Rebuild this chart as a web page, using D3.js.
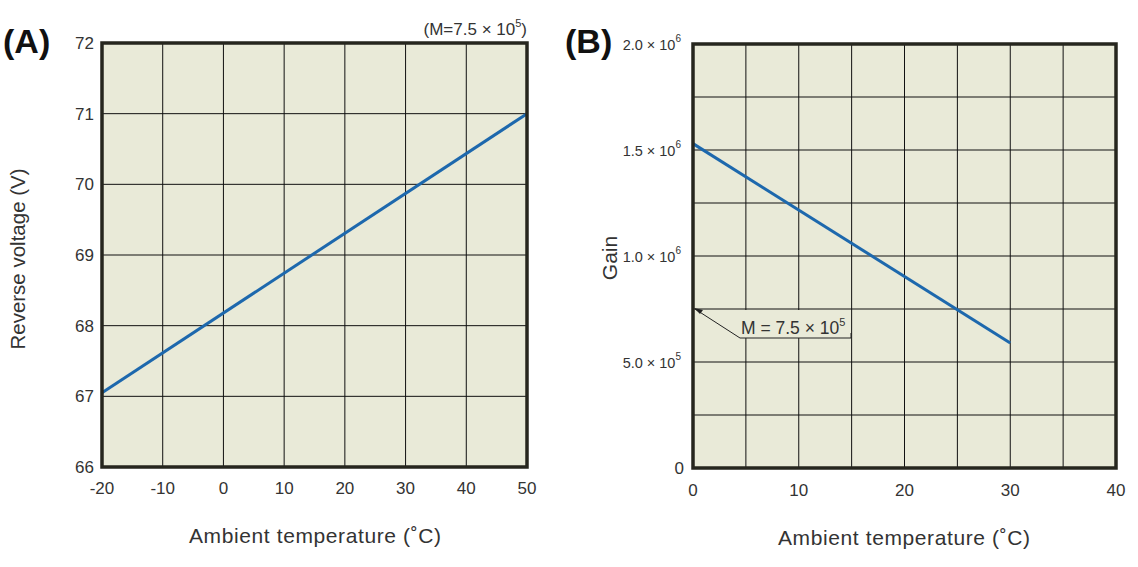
<!DOCTYPE html>
<html><head><meta charset="utf-8">
<script src="https://cdn.jsdelivr.net/npm/d3@7"></script>
<style>
html,body{margin:0;padding:0;background:#fff;}
svg{display:block;font-family:"Liberation Sans",Arial,sans-serif;}
</style></head>
<body>
<svg id="c" width="1138" height="567"></svg>
<script>
// Panel A data
const tempA = [-20, 50];
const voltA = [67.05, 71.0];
const xTicksA = [-20, -10, 0, 10, 20, 30, 40, 50];
const yTicksA = [66, 67, 68, 69, 70, 71, 72];
// Panel B data
const tempB = [0, 30];
const gainB = [1.53e6, 0.59e6];
const xTicksB = [0, 10, 20, 30, 40];
const xGridB = [0, 5, 10, 15, 20, 25, 30, 35, 40];
const yGridB = [0, 2.5e5, 5e5, 7.5e5, 1e6, 1.25e6, 1.5e6, 1.75e6, 2e6];
const yLabelsB = [
  {v: 0, m: "0", e: ""},
  {v: 5e5, m: "5.0 × 10", e: "5"},
  {v: 1e6, m: "1.0 × 10", e: "6"},
  {v: 1.5e6, m: "1.5 × 10", e: "6"},
  {v: 2e6, m: "2.0 × 10", e: "6"}
];
const markerB = 7.5e5;

const svg = d3.select("#c");
const bg = "#e9ead8", frame = "#26261e", lineCol = "#1d68ad", txt = "#333";

function panel(x0, x1, y0, y1, xd, yd) {
  const x = d3.scaleLinear().domain(xd).range([x0, x1]);
  const y = d3.scaleLinear().domain(yd).range([y1, y0]);
  return {x, y};
}

// ---------- Panel A ----------
const A = panel(102, 527, 43, 467, [-20, 50], [66, 72]);
const gA = svg.append("g");
gA.append("rect").attr("x", 102).attr("y", 43).attr("width", 425).attr("height", 424).attr("fill", bg);
gA.selectAll(".vg").data(xTicksA).enter().append("line")
  .attr("x1", d => A.x(d)).attr("x2", d => A.x(d)).attr("y1", 43).attr("y2", 467)
  .attr("stroke", "#111").attr("stroke-width", 1);
gA.selectAll(".hg").data(yTicksA).enter().append("line")
  .attr("y1", d => A.y(d)).attr("y2", d => A.y(d)).attr("x1", 102).attr("x2", 527)
  .attr("stroke", "#111").attr("stroke-width", 1);
gA.append("path").datum(tempA.map((t, i) => [t, voltA[i]]))
  .attr("d", d3.line().x(d => A.x(d[0])).y(d => A.y(d[1])))
  .attr("fill", "none").attr("stroke", lineCol).attr("stroke-width", 3);
gA.append("rect").attr("x", 102).attr("y", 43).attr("width", 425).attr("height", 424)
  .attr("fill", "none").attr("stroke", frame).attr("stroke-width", 3.5);
gA.selectAll(".xt").data(xTicksA).enter().append("text")
  .attr("x", d => A.x(d)).attr("y", 494).attr("text-anchor", "middle")
  .attr("font-size", 17).attr("fill", txt).text(d => d);
gA.selectAll(".yt").data(yTicksA).enter().append("text")
  .attr("x", 94).attr("y", d => A.y(d) + 6).attr("text-anchor", "end")
  .attr("font-size", 17).attr("fill", txt).text(d => d);
gA.append("text").attr("x", 315).attr("y", 543).attr("text-anchor", "middle")
  .attr("font-size", 21).attr("fill", txt).attr("textLength", 252).text("Ambient temperature (˚C)");
gA.append("text").attr("transform", "translate(25,259) rotate(-90)").attr("text-anchor", "middle")
  .attr("font-size", 20.5).attr("fill", txt).text("Reverse voltage (V)");
const annA = gA.append("text").attr("x", 527).attr("y", 35).attr("text-anchor", "end")
  .attr("font-size", 17).attr("fill", txt);
annA.append("tspan").text("(M=7.5 × 10");
annA.append("tspan").attr("dy", -8).attr("font-size", 11).text("5");
annA.append("tspan").attr("dy", 8).text(")");
svg.append("text").attr("x", 3).attr("y", 53).attr("font-size", 34).attr("font-weight", "bold")
  .attr("fill", "#111").text("(A)");

// ---------- Panel B ----------
const B = panel(693, 1116, 44, 468, [0, 40], [0, 2e6]);
const gB = svg.append("g");
gB.append("rect").attr("x", 693).attr("y", 44).attr("width", 423).attr("height", 424).attr("fill", bg);
gB.selectAll(".vg").data(xGridB).enter().append("line")
  .attr("x1", d => B.x(d)).attr("x2", d => B.x(d)).attr("y1", 44).attr("y2", 468)
  .attr("stroke", "#111").attr("stroke-width", 1);
gB.selectAll(".hg").data(yGridB).enter().append("line")
  .attr("y1", d => B.y(d)).attr("y2", d => B.y(d)).attr("x1", 693).attr("x2", 1116)
  .attr("stroke", "#111").attr("stroke-width", 1);
gB.append("path").datum(tempB.map((t, i) => [t, gainB[i]]))
  .attr("d", d3.line().x(d => B.x(d[0])).y(d => B.y(d[1])))
  .attr("fill", "none").attr("stroke", lineCol).attr("stroke-width", 3);
// annotation M = 7.5 x 10^5
const ay = B.y(markerB);
const lx = 740, ly = ay + 29, lw = 111;
gB.append("rect").attr("x", lx).attr("y", ay + 1).attr("width", lw).attr("height", ly - ay - 1).attr("fill", bg);
gB.append("path").attr("d", `M${B.x(0) + 2},${ay} L${lx},${ly} L${lx + lw},${ly} L${lx + lw},${ly - 5}`)
  .attr("fill", "none").attr("stroke", "#222").attr("stroke-width", 1);
gB.append("path").attr("d", `M${B.x(0) + 1},${ay - 1} l9,2 l-3,4 z`).attr("fill", "#222");
const annB = gB.append("text").attr("x", lx + 1).attr("y", ly - 4).attr("font-size", 17.5).attr("fill", txt);
annB.append("tspan").text("M = 7.5 × 10");
annB.append("tspan").attr("dy", -8).attr("font-size", 11).text("5");
gB.append("rect").attr("x", 693).attr("y", 44).attr("width", 423).attr("height", 424)
  .attr("fill", "none").attr("stroke", frame).attr("stroke-width", 3.5);
gB.selectAll(".xt").data(xTicksB).enter().append("text")
  .attr("x", d => B.x(d)).attr("y", 496).attr("text-anchor", "middle")
  .attr("font-size", 17).attr("fill", txt).text(d => d);
const yl = gB.selectAll(".yt").data(yLabelsB).enter().append("text")
  .attr("x", d => d.e ? 681 : 684).attr("y", d => B.y(d.v) + 6).attr("text-anchor", "end")
  .attr("font-size", d => d.e ? 14.5 : 17).attr("fill", txt);
yl.append("tspan").text(d => d.m);
yl.filter(d => d.e).append("tspan").attr("dy", -8).attr("font-size", 10).text(d => d.e);
gB.append("text").attr("x", 904).attr("y", 545).attr("text-anchor", "middle")
  .attr("font-size", 21).attr("fill", txt).attr("textLength", 252).text("Ambient temperature (˚C)");
gB.append("text").attr("transform", "translate(617,258) rotate(-90)").attr("text-anchor", "middle")
  .attr("font-size", 21).attr("fill", txt).text("Gain");
svg.append("text").attr("x", 565).attr("y", 53).attr("font-size", 34).attr("font-weight", "bold")
  .attr("fill", "#111").text("(B)");
</script>
</body></html>
